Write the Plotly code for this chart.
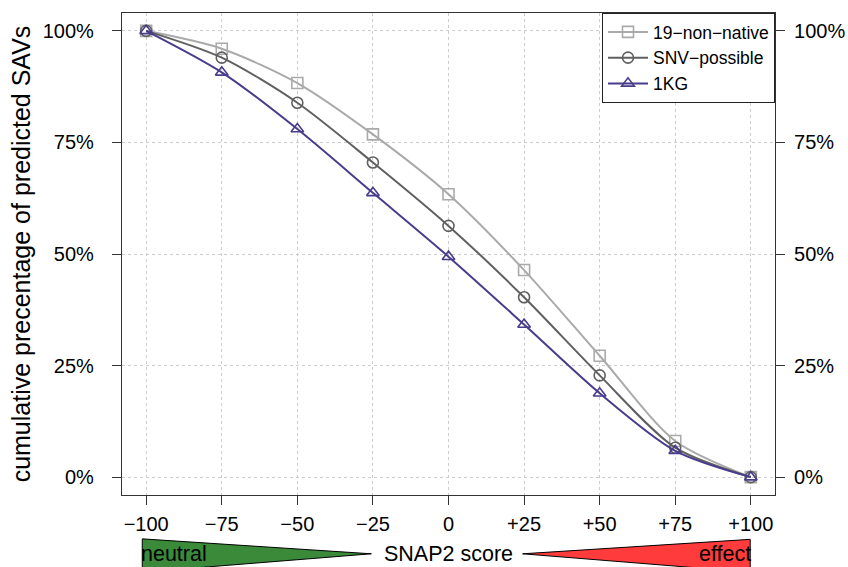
import plotly.graph_objects as go

scores = [-100, -75, -50, -25, 0, 25, 50, 75, 100]
tick_text = ["\u2212100", "\u221275", "\u221250", "\u221225", "0", "+25", "+50", "+75", "+100"]
non_native = [100, 96.0, 88.3, 76.8, 63.4, 46.4, 27.2, 8.1, 0]
snv_possible = [100, 94.0, 83.9, 70.5, 56.3, 40.3, 22.8, 6.6, 0]
kg1 = [100, 90.7, 78.0, 63.7, 49.4, 34.2, 18.8, 5.9, 0]
y_ticks = [0, 25, 50, 75, 100]
y_text = ["0%", "25%", "50%", "75%", "100%"]

FONT = "Liberation Sans, Arial, sans-serif"

fig = go.Figure()
series = [
    ("19\u2212non\u2212native", non_native, "#aaaaaa", "square-open"),
    ("SNV\u2212possible", snv_possible, "#606060", "circle-open"),
    ("1KG", kg1, "#483d8b", "triangle-up-open"),
]
for name, vals, col, sym in series:
    fig.add_trace(go.Scatter(
        x=scores, y=vals, name=name, mode="lines+markers",
        line=dict(color=col, width=2, shape="spline", smoothing=0.8),
        marker=dict(symbol=sym, size=11, color=col, line=dict(width=1.6, color=col)),
    ))

# invisible trace for right axis
fig.add_trace(go.Scatter(x=[scores[0]], y=[y_ticks[0]], yaxis="y2", showlegend=False,
                         mode="markers", marker=dict(opacity=0), hoverinfo="skip"))

axis_common = dict(showline=True, linecolor="#333333", linewidth=1.2,
                   ticks="outside", ticklen=9, tickcolor="#333333", tickwidth=1,
                   tickfont=dict(family=FONT, size=20, color="black"), zeroline=False,
                   automargin=False)

fig.update_layout(
    width=848, height=567,
    margin=dict(l=122, r=73, t=13, b=72),
    paper_bgcolor="white", plot_bgcolor="white",
    font=dict(family=FONT, color="black"),
    xaxis=dict(range=[-108, 108], tickvals=scores, ticktext=tick_text,
               showgrid=True, gridcolor="#cccccc", griddash="3px,3px", gridwidth=1,
               mirror=True, ticklabelstandoff=2, **axis_common),
    yaxis=dict(range=[-4, 104], tickvals=y_ticks, ticktext=y_text,
               showgrid=True, gridcolor="#cccccc", griddash="3px,3px", gridwidth=1,
               mirror=True, ticklabelstandoff=14,
               title=dict(text="cumulative precentage of predicted SAVs",
                          font=dict(family=FONT, size=25, color="black"), standoff=4),
               **axis_common),
    yaxis2=dict(range=[-4, 104], tickvals=y_ticks, ticktext=y_text, overlaying="y",
                side="right", showgrid=False, ticklabelstandoff=5, **axis_common),
    legend=dict(x=1, xanchor="right", y=1, yanchor="top", bgcolor="white",
                bordercolor="#222222", borderwidth=1,
                font=dict(family=FONT, size=17.5, color="black"),
                itemwidth=40, tracegroupgap=0),
    showlegend=True,
)

# SNAP2 score gradient triangles below axis
shapes = [
    dict(type="path", xref="x", yref="paper",
         path="M -101.3 -0.091 L -101.3 -0.16 L -25.5 -0.122 Z",
         fillcolor="#3a8a3a", line=dict(color="black", width=1)),
    dict(type="path", xref="x", yref="paper",
         path="M 99.8 -0.092 L 99.8 -0.16 L 24.5 -0.122 Z",
         fillcolor="#ff3b3b", line=dict(color="black", width=1)),
]
fig.update_layout(shapes=shapes)
fig.add_annotation(x=0, y=-0.122, xref="x", yref="paper", text="SNAP2 score",
                   showarrow=False, font=dict(family=FONT, size=21.5, color="black"),
                   bgcolor="white", xanchor="center", yanchor="middle")
fig.add_annotation(x=-101.3, y=-0.122, xref="x", yref="paper", text="neutral",
                   showarrow=False, font=dict(family=FONT, size=21.5, color="black"),
                   xanchor="left", yanchor="middle", xshift=-3)
fig.add_annotation(x=99.8, y=-0.122, xref="x", yref="paper", text="effect",
                   showarrow=False, font=dict(family=FONT, size=21.5, color="black"),
                   xanchor="right", yanchor="middle", xshift=3)

fig.write_html("out.html")
